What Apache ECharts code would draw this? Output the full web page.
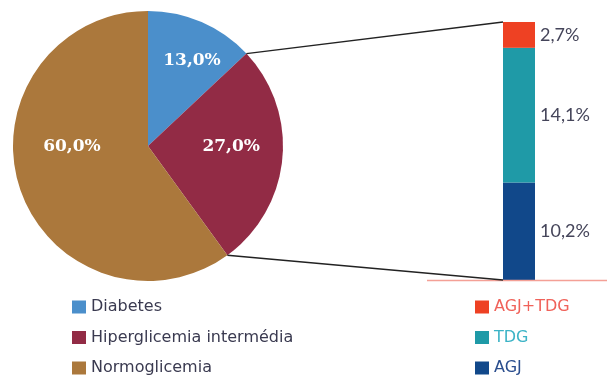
<!DOCTYPE html>
<html><head><meta charset="utf-8">
<script src="https://cdn.jsdelivr.net/npm/echarts@6/dist/echarts.min.js"></script>
<style>html,body{margin:0;padding:0;background:#fff}#c{width:607px;height:378px}</style>
</head><body><div id="c"></div>
<script>
const pieNames = ['Diabetes', 'Hiperglicemia intermédia', 'Normoglicemia'];
const pieValues = [13.0, 27.0, 60.0];
const barNames = ['AGJ+TDG', 'TDG', 'AGJ'];
const barValues = [2.7, 14.1, 10.2];

const pieColors = ['#4b8fcb', '#922b45', '#ab783c'];
const barColors = { 'AGJ+TDG': '#ee4123', 'TDG': '#1f9aa7', 'AGJ': '#11488a' };
const barTextColors = { 'AGJ+TDG': '#f0625a', 'TDG': '#3cb3c6', 'AGJ': '#2b4e8e' };
const pieLabelShift = [[16, -21], [13, -6], [-9, -21]];

const fmt = v => v.toFixed(1).replace('.', ',') + '%';
const pieCenter = [148, 146], pieR = 135;
const barTotal = barValues.reduce((a, b) => a + b, 0);
const pieTotal = pieValues.reduce((a, b) => a + b, 0);

function piePt(frac) {
  const a = (90 - frac * 360) * Math.PI / 180;
  return [pieCenter[0] + pieR * Math.cos(a), pieCenter[1] - pieR * Math.sin(a)];
}

const chart = echarts.init(document.getElementById('c'));
// stack from bottom: AGJ, TDG, AGJ+TDG
const stackOrder = barNames.slice().reverse();
const barSeries = stackOrder.map(n => ({
  type: 'bar', name: n, stack: 's', barWidth: '100%',
  data: [barValues[barNames.indexOf(n)]],
  itemStyle: { color: barColors[n] },
  label: { show: true, position: 'right', distance: 5, formatter: p => fmt(p.value),
    color: '#45455a', fontFamily: 'Lato', fontSize: 18 }
}));

// connector lines: from pie slice boundaries (from values) to the bar edges (from the axis)
const connectorSeries = {
  type: 'custom', name: 'connector', clip: false, silent: true, z: 5,
  data: [[0, barTotal]],
  renderItem: function (params, api) {
    const top = api.coord([0, barTotal]);
    const bot = api.coord([0, 0]);
    const bw = api.size([1, 0])[0];
    const left = top[0] - bw / 2;
    const p1 = piePt(pieValues[0] / pieTotal);
    const p2 = piePt((pieValues[0] + pieValues[1]) / pieTotal);
    return { type: 'group', children: [
      { type: 'line', shape: { x1: 427, y1: bot[1] + 0.5, x2: 607, y2: bot[1] + 0.5 }, style: { stroke: '#f4a096', lineWidth: 1.5 } },
      { type: 'line', shape: { x1: p1[0], y1: p1[1], x2: left, y2: top[1] }, style: { stroke: '#222', lineWidth: 1.4 } },
      { type: 'line', shape: { x1: p2[0], y1: p2[1], x2: left, y2: bot[1] }, style: { stroke: '#222', lineWidth: 1.4 } }
    ] };
  }
};

const legendText = { fontFamily: 'DejaVu Sans', fontSize: 16, lineHeight: 18 };
chart.setOption({
  animation: false,
  grid: { left: 503, top: 22, width: 32, height: 258 },
  xAxis: { type: 'category', data: [''], show: false },
  yAxis: { type: 'value', min: 0, max: barTotal, show: false },
  legend: [
    { orient: 'vertical', left: 72, top: 298, height: 90, padding: 0, itemWidth: 14, itemHeight: 13, itemGap: 12.5, icon: 'rect',
      data: pieNames, textStyle: Object.assign({ color: '#3a3a50' }, legendText) },
    { orient: 'vertical', left: 475, top: 298, height: 90, padding: 0, itemWidth: 14, itemHeight: 13, itemGap: 12.5, icon: 'rect',
      data: barNames.map(n => ({ name: n, textStyle: { color: barTextColors[n] } })),
      textStyle: legendText }
  ],
  series: [
    connectorSeries,
    { type: 'pie', center: pieCenter, radius: pieR, startAngle: 90, clockwise: true,
      data: pieNames.map((n, i) => ({ name: n, value: pieValues[i], itemStyle: { color: pieColors[i] } })),
      label: { show: true, position: 'inside', formatter: p => fmt(p.value), color: '#fff',
        fontFamily: 'DejaVu Serif', fontWeight: 'bold', fontSize: 17 },
      labelLayout: p => ({ dx: pieLabelShift[p.dataIndex][0], dy: pieLabelShift[p.dataIndex][1] }),
      labelLine: { show: false }, emphasis: { disabled: true }
    },
    ...barSeries
  ]
});
</script></body></html>
